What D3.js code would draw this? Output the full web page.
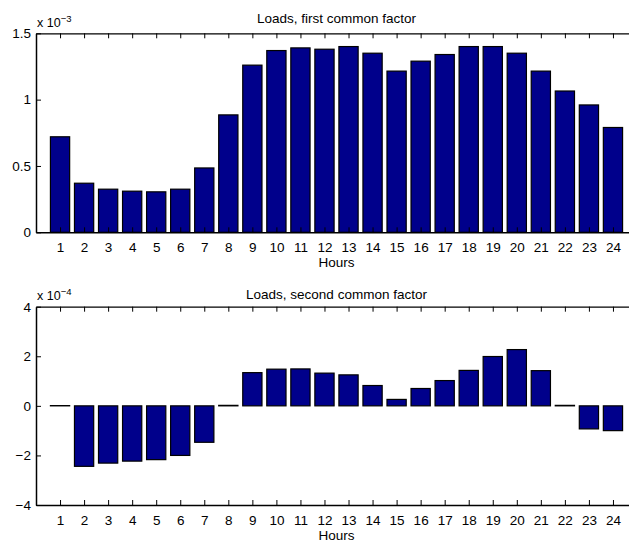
<!DOCTYPE html>
<html>
<head>
<meta charset="utf-8">
<script src="https://cdn.jsdelivr.net/npm/d3@7"></script>
<style>
  body { margin: 0; background: #fff; overflow: hidden; }
  svg text { font-family: "Liberation Sans", Arial, sans-serif; fill: #000; }
</style>
</head>
<body>
<div id="chart"></div>
<script>
// Hours on the x axis
const hours = d3.range(1, 25);

// Loads of the first common factor (x 10^-3)
const firstLoads = [0.72, 0.37, 0.325, 0.31, 0.305, 0.325, 0.485, 0.885, 1.26, 1.37, 1.39, 1.38,
    1.40, 1.35, 1.215, 1.29, 1.34, 1.40, 1.40, 1.35, 1.215, 1.065, 0.96, 0.79];

// Loads of the second common factor (x 10^-4)
const secondLoads = [0.01, -2.44, -2.31, -2.23, -2.17, -2.0, -1.47, 0.02, 1.34, 1.48, 1.49, 1.32,
    1.25, 0.82, 0.26, 0.70, 1.02, 1.43, 1.99, 2.27, 1.42, 0.02, -0.93, -1.0];

const firstTicks = [0, 0.5, 1, 1.5];
const secondTicks = [-4, -2, 0, 2, 4];

const svgWidth = 629;
const svgHeight = 541;
const fontSize = 13.5;

const svg = d3.select("#chart")
    .append("svg")
    .attr("width", svgWidth)
    .attr("height", svgHeight);

//Draw one panel of the figure
function drawPanel(cfg) {
    const left = 36, right = 637;
    const g = svg.append("g");

    const x = d3.scaleLinear().domain([0, 25]).range([left, right]);
    const y = d3.scaleLinear().domain(cfg.domain).range([cfg.bottom, cfg.top]);
    const bw = (x(1) - x(0)) * 0.8;

    //Bars from the zero line
    g.selectAll("rect.bar")
        .data(cfg.values)
        .enter()
        .append("rect")
        .attr("class", "bar")
        .attr("x", (d, i) => x(hours[i]) - bw / 2)
        .attr("y", d => Math.min(y(d), y(0)))
        .attr("width", bw)
        .attr("height", d => Math.abs(y(d) - y(0)))
        .attr("fill", "#00008b")
        .attr("stroke", "#000")
        .attr("stroke-width", 1.2);

    //Bottom axis, ticks pointing inward
    const xAxis = d3.axisBottom(x).tickValues(hours).tickSizeInner(-5).tickSizeOuter(0).tickPadding(10);
    const gx = g.append("g")
        .attr("transform", `translate(0, ${cfg.bottom})`)
        .call(xAxis);
    gx.select(".domain").attr("stroke-width", 1.5);
    gx.selectAll("text").attr("font-size", fontSize).attr("font-family", "Liberation Sans, Arial, sans-serif");

    //Top axis, ticks only
    const gt = g.append("g")
        .attr("transform", `translate(0, ${cfg.top})`)
        .call(d3.axisTop(x).tickValues(hours).tickSizeInner(-5).tickSizeOuter(0).tickFormat(""));
    gt.select(".domain").attr("stroke-width", 1.2);

    //Left axis
    const gy = g.append("g")
        .attr("transform", `translate(${left}, 0)`)
        .call(d3.axisLeft(y).tickValues(cfg.ticks).tickSizeInner(-5).tickSizeOuter(0).tickPadding(5)
            .tickFormat(d => d < 0 ? "\u2212" + Math.abs(d) : d));
    gy.select(".domain").attr("stroke-width", 1.5);
    gy.selectAll("text").attr("font-size", fontSize).attr("font-family", "Liberation Sans, Arial, sans-serif");

    //Exponent label
    const exp = g.append("text")
        .attr("x", left + 1)
        .attr("y", cfg.top - cfg.expGap)
        .attr("font-size", 12.5);
    exp.append("tspan").text("x 10");
    exp.append("tspan").attr("dy", -5).attr("font-size", 9.5).text(cfg.exponent);

    //Title
    g.append("text")
        .attr("x", (left + right) / 2)
        .attr("y", cfg.top - cfg.titleGap)
        .attr("text-anchor", "middle")
        .attr("font-size", fontSize)
        .text(cfg.title);

    //Axis label
    g.append("text")
        .attr("x", (left + right) / 2)
        .attr("y", cfg.bottom + 34.5)
        .attr("text-anchor", "middle")
        .attr("font-size", fontSize)
        .text("Hours");
}

drawPanel({
    values: firstLoads,
    domain: [0, 1.5],
    ticks: firstTicks,
    top: 33.3,
    bottom: 232.3,
    expGap: 6.5,
    titleGap: 10.5,
    exponent: "\u22123",
    title: "Loads, first common factor"
});

drawPanel({
    values: secondLoads,
    domain: [-4, 4],
    ticks: secondTicks,
    top: 306.7,
    bottom: 505,
    expGap: 7,
    titleGap: 7.5,
    exponent: "\u22124",
    title: "Loads, second common factor"
});
</script>
</body>
</html>
